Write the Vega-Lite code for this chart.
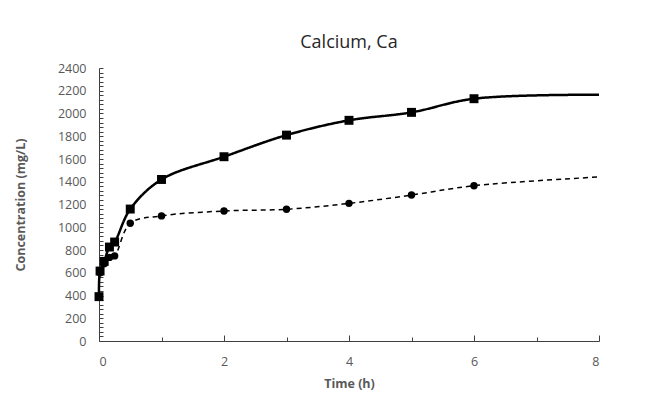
{
  "$schema": "https://vega.github.io/schema/vega-lite/v6.json",
  "width": 500,
  "height": 273,
  "autosize": "none",
  "padding": {"left": 99, "top": 68, "right": 55, "bottom": 62},
  "background": "white",
  "config": {
    "view": {"stroke": null},
    "font": "Open Sans",
    "axis": {"grid": false, "domainColor": "#404040", "domainWidth": 1, "tickColor": "#404040", "labelColor": "#595959", "titleColor": "#595959", "labelFontSize": 12.5, "titleFontSize": 12.5, "titleFontWeight": "bold", "labelFont": "Open Sans", "titleFont": "Open Sans"}
  },
  "title": {"text": "Calcium, Ca", "fontSize": 18, "fontWeight": "normal", "color": "#262626", "font": "Open Sans", "offset": 10},
  "data": {
    "values": [
      {"t": 0, "c": 390, "series": "A", "pt": true},
      {"t": 0.017, "c": 615, "series": "A", "pt": true},
      {"t": 0.083, "c": 700, "series": "A", "pt": true},
      {"t": 0.167, "c": 826, "series": "A", "pt": true},
      {"t": 0.25, "c": 870, "series": "A", "pt": true},
      {"t": 0.5, "c": 1160, "series": "A", "pt": true},
      {"t": 1, "c": 1420, "series": "A", "pt": true},
      {"t": 2, "c": 1620, "series": "A", "pt": true},
      {"t": 3, "c": 1810, "series": "A", "pt": true},
      {"t": 4, "c": 1940, "series": "A", "pt": true},
      {"t": 5, "c": 2010, "series": "A", "pt": true},
      {"t": 6, "c": 2130, "series": "A", "pt": true},
      {"t": 8, "c": 2165, "series": "A", "pt": false},
      {"t": 0, "c": 390, "series": "B", "pt": true},
      {"t": 0.017, "c": 600, "series": "B", "pt": true},
      {"t": 0.083, "c": 680, "series": "B", "pt": true},
      {"t": 0.167, "c": 735, "series": "B", "pt": true},
      {"t": 0.25, "c": 748, "series": "B", "pt": true},
      {"t": 0.5, "c": 1035, "series": "B", "pt": true},
      {"t": 1, "c": 1100, "series": "B", "pt": true},
      {"t": 2, "c": 1143, "series": "B", "pt": true},
      {"t": 3, "c": 1158, "series": "B", "pt": true},
      {"t": 4, "c": 1210, "series": "B", "pt": true},
      {"t": 5, "c": 1283, "series": "B", "pt": true},
      {"t": 6, "c": 1365, "series": "B", "pt": true},
      {"t": 8, "c": 1442, "series": "B", "pt": false}
    ]
  },
  "encoding": {
    "x": {"field": "t", "type": "quantitative", "scale": {"domain": [0, 8], "nice": false},
      "axis": {"title": "Time (h)", "values": [0,0.5,1,1.5,2,2.5,3,3.5,4,4.5,5,5.5,6,6.5,7,7.5,8],
        "labelExpr": "datum.value % 2 === 0 ? datum.label : ''", "format": "d",
        "tickSize": {"condition": {"test": "datum.value % 2 === 0", "value": -6}, "value": -4},
        "labelPadding": 20, "titlePadding": 10}},
    "y": {"field": "c", "type": "quantitative", "scale": {"domain": [0, 2400], "nice": false},
      "axis": {"title": "Concentration (mg/L)", "values": [0,40,80,120,160,200,240,280,320,360,400,440,480,520,560,600,640,680,720,760,800,840,880,920,960,1000,1040,1080,1120,1160,1200,1240,1280,1320,1360,1400,1440,1480,1520,1560,1600,1640,1680,1720,1760,1800,1840,1880,1920,1960,2000,2040,2080,2120,2160,2200,2240,2280,2320,2360,2400],
        "labelExpr": "datum.value % 200 === 0 ? datum.label : ''",
        "tickSize": -4,
        "labelPadding": 17, "titlePadding": 30, "format": "d"}}
  },
  "layer": [
    {
      "mark": {"type": "line", "interpolate": "catmull-rom", "color": "black"},
      "encoding": {
        "detail": {"field": "series"},
        "strokeDash": {"field": "series", "scale": {"domain": ["A", "B"], "range": [[1, 0], [5, 4]]}, "legend": null},
        "strokeWidth": {"field": "series", "type": "nominal", "scale": {"domain": ["A", "B"], "range": [2.5, 1.5]}, "legend": null}
      }
    },
    {
      "transform": [{"filter": "datum.pt"}],
      "mark": {"type": "point", "filled": true, "color": "black", "opacity": 1},
      "encoding": {
        "shape": {"field": "series", "scale": {"domain": ["A", "B"], "range": ["square", "circle"]}, "legend": null},
        "size": {"field": "series", "type": "nominal", "scale": {"domain": ["A", "B"], "range": [80, 55]}, "legend": null}
      }
    }
  ]
}
